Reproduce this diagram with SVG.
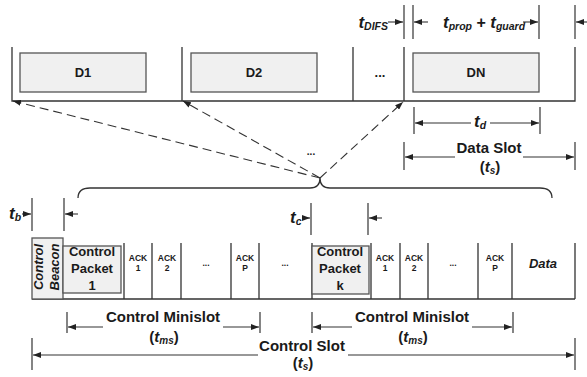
<svg xmlns="http://www.w3.org/2000/svg" width="587" height="377" viewBox="0 0 587 377">
<defs>
<marker id="arr" markerUnits="userSpaceOnUse" markerWidth="8" markerHeight="6" refX="8" refY="3" orient="auto"><path d="M0,0 L8,3 L0,6 z" fill="#222" stroke="none"/></marker>
<style>
.ln{stroke:#333;stroke-width:1.3;fill:none}
.tk{stroke:#444;stroke-width:1.3;fill:none}
.dim{stroke:#333;stroke-width:1.1;fill:none;marker-end:url(#arr)}
.dash{stroke:#333;stroke-width:1.1;fill:none;stroke-dasharray:9 5;marker-end:url(#arr)}
.box{fill:#f0f0f0;stroke:#555;stroke-width:1.3}
.t{font-family:"Liberation Sans",Arial,sans-serif;font-weight:bold;fill:#1a1a1a}
.lbl{font-size:13px;text-anchor:middle}
.ack{font-size:8.5px;text-anchor:middle}
.big{font-size:15px;text-anchor:middle}
.ti{font-style:italic}
</style>
</defs>
<rect width="587" height="377" fill="#fff"/>

<g id="data-frame">
<path class="ln" d="M12,47 V101 H575 V47 M182,47 V101 M353,47 V101 M404,47 V101"/>
</g>
<g id="D1"><rect class="box" x="20" y="53" width="126" height="39"/><text class="t lbl" x="83" y="77">D1</text></g>
<g id="D2"><rect class="box" x="191" y="53" width="126" height="39"/><text class="t lbl" x="254" y="77">D2</text></g>
<g id="Ddots"><text class="t lbl" x="380" y="77">...</text></g>
<g id="DN"><rect class="box" x="413" y="53" width="126" height="39"/><text class="t lbl" x="476" y="77">DN</text></g>

<g id="control-frame">
<path class="ln" d="M32,299 H575 M124,243 V299 M152,243 V299 M181,243 V299 M231,243 V299 M259,243 V299 M312,243 V299 M371,243 V299 M400,243 V299 M428,243 V299 M478,243 V299 M512,243 V299 M575,243 V299"/>
</g>
<g id="beacon"><rect class="box" x="32" y="238" width="31" height="61"/>
<text class="t ti lbl" transform="translate(43,267) rotate(-90)">Control</text>
<text class="t ti lbl" transform="translate(59,267) rotate(-90)">Beacon</text></g>
<g id="packet1"><rect class="box" x="63" y="246" width="58" height="47"/>
<text class="t lbl" x="92" y="256">Control</text><text class="t lbl" x="92" y="273">Packet</text><text class="t lbl" x="92" y="290">1</text></g>
<g id="ack1a"><text class="t ack" x="138" y="261">ACK</text><text class="t ack" x="138" y="271">1</text></g>
<g id="ack2a"><text class="t ack" x="167" y="261">ACK</text><text class="t ack" x="167" y="271">2</text></g>
<g id="dotsa"><text class="t ack" x="206" y="266">...</text></g>
<g id="ackPa"><text class="t ack" x="245" y="261">ACK</text><text class="t ack" x="245" y="271">P</text></g>
<g id="dotsb"><text class="t ack" x="285" y="266">...</text></g>
<g id="packetk"><rect class="box" x="312" y="246" width="57" height="48"/>
<text class="t lbl" x="340" y="256">Control</text><text class="t lbl" x="340" y="273">Packet</text><text class="t lbl" x="340" y="290">k</text></g>
<g id="ack1b"><text class="t ack" x="385" y="261">ACK</text><text class="t ack" x="385" y="271">1</text></g>
<g id="ack2b"><text class="t ack" x="414" y="261">ACK</text><text class="t ack" x="414" y="271">2</text></g>
<g id="dotsc"><text class="t ack" x="453" y="266">...</text></g>
<g id="ackPb"><text class="t ack" x="495" y="261">ACK</text><text class="t ack" x="495" y="271">P</text></g>
<g id="data"><text class="t ti lbl" x="543" y="268">Data</text></g>

<g id="connectors">
<path class="ln" d="M78,198 Q78,188 90,188 L310,188 Q320,188 320,178 Q320,188 330,188 L540,188 Q552,188 552,198"/>
<line class="dash" x1="320" y1="178" x2="13" y2="101"/>
<line class="dash" x1="320" y1="178" x2="183" y2="101"/>
<line class="dash" x1="320" y1="178" x2="403" y2="102"/>
<text class="t" x="311" y="155" font-size="10" text-anchor="middle">...</text>

<!-- tDIFS / tprop+tguard -->
<path class="tk" d="M404,5 V39 M413,5 V39 M539,5 V39 M575,5 V39"/>
<text class="t" x="388" y="28" font-size="17" text-anchor="end"><tspan class="ti">t</tspan><tspan class="ti" font-size="10.5" dy="2">DIFS</tspan></text>
<line class="dim" x1="388" y1="22" x2="403" y2="22"/>
<line class="dim" x1="428" y1="22" x2="414" y2="22"/>
<text class="t" x="443" y="28" font-size="17"><tspan class="ti">t</tspan><tspan class="ti" font-size="10.5" dy="2">prop</tspan><tspan dy="-2" font-size="16"> + </tspan><tspan class="ti">t</tspan><tspan class="ti" font-size="10.5" dy="2">guard</tspan></text>
<line class="dim" x1="523" y1="22" x2="538" y2="22"/>
<line class="dim" x1="587" y1="22" x2="576" y2="22"/>

<!-- td -->
<path class="tk" d="M414,107 V134 M540,107 V134"/>
<line class="dim" x1="471" y1="123" x2="415" y2="123"/>
<line class="dim" x1="490" y1="123" x2="539" y2="123"/>
<text class="t" x="480" y="127" font-size="17" text-anchor="middle"><tspan class="ti">t</tspan><tspan class="ti" font-size="10.5" dy="2">d</tspan></text>

<!-- Data slot -->
<path class="tk" d="M404,142 V170 M575,142 V170"/>
<line class="dim" x1="455" y1="157" x2="405" y2="157"/>
<line class="dim" x1="523" y1="157" x2="574" y2="157"/>
<text class="t big" x="489" y="153">Data Slot</text>
<text class="t big" x="490" y="172">(<tspan class="ti">t</tspan><tspan class="ti" font-size="10" dy="2">s</tspan><tspan dy="-2">)</tspan></text>

<!-- tb -->
<path class="tk" d="M32,198 V231 M64,198 V231"/>
<text class="t" x="9" y="219" font-size="17"><tspan class="ti">t</tspan><tspan class="ti" font-size="10.5" dy="2">b</tspan></text>
<line class="dim" x1="22" y1="214" x2="31" y2="214"/>
<line class="dim" x1="78" y1="214" x2="65" y2="214"/>

<!-- tc -->
<path class="tk" d="M311,203 V235 M368,203 V235"/>
<text class="t" x="290" y="223" font-size="17"><tspan class="ti">t</tspan><tspan class="ti" font-size="10.5" dy="2">c</tspan></text>
<line class="dim" x1="304" y1="218" x2="310" y2="218"/>
<line class="dim" x1="382" y1="218" x2="369" y2="218"/>

<!-- Control minislot 1 -->
<path class="tk" d="M67,312 V333 M260,312 V333"/>
<line class="dim" x1="103" y1="327" x2="68" y2="327"/>
<line class="dim" x1="223" y1="327" x2="259" y2="327"/>
<text class="t big" x="163" y="322">Control Minislot</text>
<text class="t big" x="164" y="342">(<tspan class="ti">t</tspan><tspan class="ti" font-size="10" dy="2">ms</tspan><tspan dy="-2">)</tspan></text>

<!-- Control minislot 2 -->
<path class="tk" d="M312,312 V333 M513,312 V333"/>
<line class="dim" x1="352" y1="327" x2="313" y2="327"/>
<line class="dim" x1="472" y1="327" x2="512" y2="327"/>
<text class="t big" x="412" y="322">Control Minislot</text>
<text class="t big" x="413" y="342">(<tspan class="ti">t</tspan><tspan class="ti" font-size="10" dy="2">ms</tspan><tspan dy="-2">)</tspan></text>

<!-- Control slot -->
<path class="tk" d="M32,338 V370 M575,338 V370"/>
<line class="dim" x1="258" y1="355" x2="33" y2="355"/>
<line class="dim" x1="348" y1="355" x2="574" y2="355"/>
<text class="t big" x="302" y="351">Control Slot</text>
<text class="t big" x="303" y="368">(<tspan class="ti">t</tspan><tspan class="ti" font-size="10" dy="2">s</tspan><tspan dy="-2">)</tspan></text>
</g>
</svg>
